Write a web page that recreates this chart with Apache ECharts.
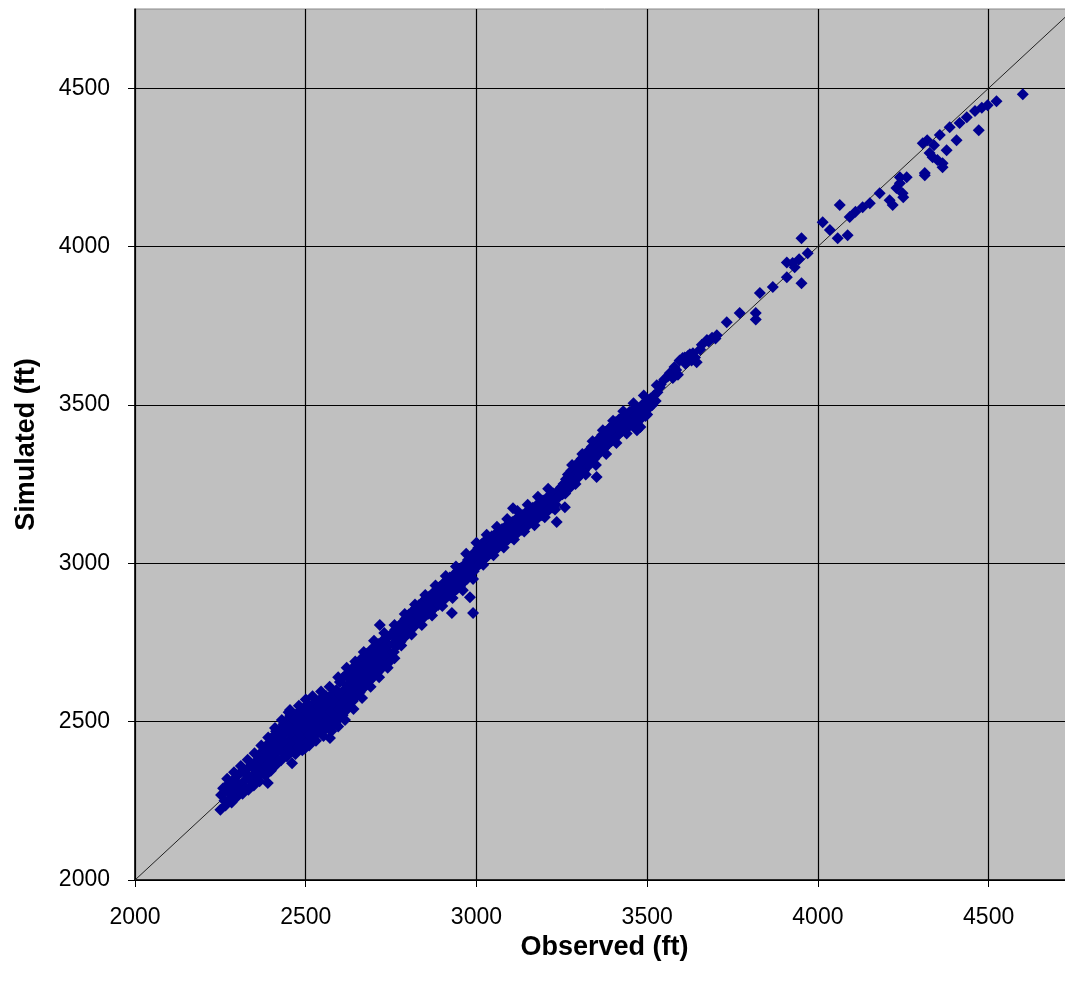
<!DOCTYPE html>
<html>
<head>
<meta charset="utf-8">
<style>
html,body{margin:0;padding:0;background:#fff;overflow:hidden;}
#chart{width:1090px;height:981px;}
</style>
<script src="https://cdn.jsdelivr.net/npm/echarts@6/dist/echarts.min.js"></script>
</head>
<body>
<div id="chart"></div>
<script>
// Observed vs simulated water levels (ft)
const bandLow = [
[2250,2222],[2252,2268],[2258,2290],[2262,2250],[2270,2282],[2275,2305],[2280,2260],[2285,2296],[2290,2318],[2295,2275],
[2300,2330],[2305,2300],[2310,2285],[2312,2342],[2318,2310],[2322,2290],[2325,2335],[2330,2352],[2335,2318],[2338,2296],
[2342,2360],[2345,2330],[2350,2310],[2352,2372],[2356,2345],[2360,2325],[2362,2390],[2366,2360],[2370,2338],[2372,2405],
[2375,2378],[2378,2350],[2380,2415],[2383,2390],[2386,2360],[2389,2306],[2390,2430],[2392,2400],[2395,2372],[2398,2445],
[2400,2415],[2403,2385],[2406,2455],[2408,2430],[2410,2398],[2413,2470],[2415,2440],[2418,2410],[2420,2380],[2422,2458],
[2425,2428],[2428,2478],[2430,2445],[2432,2405],[2435,2492],[2437,2460],[2440,2425],[2442,2395],[2445,2505],[2447,2475],
[2450,2440],[2452,2415],[2454,2537],[2455,2520],[2457,2490],[2460,2460],[2460,2369],[2462,2430],[2465,2405],[2468,2505],
[2470,2475],[2472,2445],[2475,2420],[2478,2530],[2480,2495],[2482,2465],[2485,2435],[2488,2512],[2490,2480],[2492,2450],
[2495,2540],[2497,2415],[2500,2500],[2502,2470],[2505,2440],[2505,2555],[2508,2520],[2510,2488],[2512,2458],[2515,2537],
[2518,2505],[2520,2475],[2522,2445],[2525,2560],[2528,2525],[2530,2492],[2532,2462],[2535,2548],[2538,2515],[2540,2482],
[2542,2570],[2545,2535],[2548,2500],[2550,2470],[2552,2555],[2555,2522],[2558,2490],[2560,2580],[2562,2545],[2565,2510],
[2568,2478],[2571,2448],[2572,2565],[2575,2532],[2578,2500],[2580,2590],[2582,2555],[2585,2520],[2588,2492],[2590,2600],
[2592,2570],[2595,2540],[2598,2510],
[2265,2235],[2283,2245],[2298,2262],[2315,2272],[2332,2285],[2348,2298],[2365,2312],[2382,2330],[2398,2345],[2412,2362],
[2428,2378],[2445,2390],[2470,2398],[2490,2410],[2510,2425],[2530,2440],[2552,2455],[2575,2470],[2595,2485],
[2270,2320],[2290,2340],[2310,2360],[2330,2380],[2350,2400],[2370,2425],[2390,2450],[2410,2480],[2430,2505],[2450,2530],
[2480,2550],[2500,2570],[2520,2580],[2545,2595],[2570,2610],[2595,2640]
];
const bandMid = [
[2600,2625],[2602,2585],[2605,2555],[2608,2520],[2610,2640],[2612,2600],[2615,2570],[2618,2535],[2620,2650],[2622,2615],
[2625,2585],[2628,2550],[2630,2660],[2632,2628],[2635,2598],[2638,2565],[2640,2672],[2642,2640],[2645,2610],[2648,2580],
[2650,2685],[2652,2652],[2655,2622],[2658,2592],[2660,2695],[2662,2665],[2665,2635],[2668,2605],[2670,2705],[2672,2678],
[2675,2648],[2678,2618],[2680,2715],[2682,2690],[2685,2660],[2688,2630],[2690,2725],[2692,2700],[2695,2672],[2698,2642],
[2700,2735],[2703,2710],[2706,2685],[2710,2655],[2712,2745],[2715,2720],[2717,2805],[2718,2695],[2722,2668],[2725,2755],
[2728,2732],[2732,2705],[2735,2680],[2738,2765],[2742,2742],[2745,2718],[2748,2692],[2750,2775],[2755,2745],[2758,2720],
[2762,2790],[2765,2765],[2768,2740],[2772,2800],[2775,2778],[2778,2752],[2782,2812],[2785,2788],[2788,2765],[2792,2825],
[2795,2800],[2798,2778],[2802,2838],[2805,2812],[2808,2790],[2812,2848],[2815,2825],[2818,2800],[2822,2858],[2825,2835],
[2828,2812],[2832,2868],[2835,2845],[2838,2822],[2842,2878],[2845,2855],[2848,2832],[2852,2888],[2855,2865],[2858,2840],
[2862,2895],[2865,2872],[2868,2850],[2872,2905],[2875,2882],[2878,2860],[2882,2915],[2885,2892],[2888,2868],[2892,2925],
[2895,2900],[2898,2878],[2902,2935],[2905,2910],[2908,2888],[2912,2945],[2915,2920],[2918,2898],[2922,2955],[2925,2930],
[2928,2843],[2930,2908],[2935,2965],[2938,2940],[2942,2918],[2945,2975],[2948,2950],[2952,2928],[2955,2985],[2958,2960],
[2962,2940],[2965,2995],[2968,2970],[2972,2950],[2975,3010],[2978,2985],[2981,2893],[2982,2962],[2985,3022],[2988,2998],
[2990,2843],[2992,2975],[2995,3035],[2998,3010],[3002,2990],[3005,3048],[3008,3022],[3012,3000],
[2615,2505],[2640,2540],[2665,2575],[2690,2610],[2715,2640],[2740,2670],[2760,2700],
[2620,2670],[2645,2690],[2670,2720],[2700,2755],[2730,2780],[2760,2805],[2790,2840],[2820,2870],[2850,2900],[2880,2930],
[2910,2960],[2940,2990],[2970,3030],[3000,3065],
[2780,2740],[2810,2775],[2840,2805],[2870,2835],[2900,2865],[2930,2890],[2960,2915],[2990,2950]
];
const bandHigh = [
[3015,3060],[3018,3035],[3022,3012],[3025,3070],[3028,3045],[3032,3022],[3035,3078],[3038,3055],[3042,3032],[3045,3085],
[3048,3062],[3052,3040],[3055,3092],[3058,3070],[3062,3048],[3065,3100],[3068,3078],[3072,3058],[3075,3108],[3078,3086],
[3082,3066],[3085,3115],[3088,3094],[3092,3074],[3095,3122],[3098,3102],[3102,3082],[3105,3130],[3107,3174],[3108,3110],
[3112,3090],[3115,3138],[3118,3118],[3122,3098],[3125,3145],[3128,3125],[3132,3106],[3135,3152],[3138,3132],[3142,3114],
[3145,3160],[3148,3140],[3152,3122],[3155,3168],[3158,3148],[3162,3130],[3165,3175],[3168,3155],[3172,3138],[3175,3182],
[3178,3162],[3182,3145],[3185,3190],[3188,3170],[3192,3152],[3195,3198],[3198,3178],[3202,3160],[3205,3205],[3208,3186],
[3212,3168],[3215,3212],[3218,3194],[3222,3176],[3225,3220],[3228,3202],[3232,3185],[3235,3130],[3238,3228],[3242,3210],
[3248,3240],[3252,3218],[3259,3177],[3255,3250],[3258,3232],[3262,3265],[3265,3245],[3268,3280],[3272,3258],[3275,3240],
[3278,3292],[3282,3272],[3285,3255],[3288,3305],[3292,3285],[3295,3268],[3298,3318],[3302,3298],[3305,3280],[3308,3330],
[3312,3310],[3315,3292],[3318,3342],[3322,3322],[3325,3305],[3328,3355],[3332,3335],[3335,3318],[3338,3368],[3342,3348],
[3345,3330],[3348,3380],[3352,3272],[3352,3360],[3355,3342],[3358,3392],[3362,3372],[3365,3355],[3368,3405],[3372,3385],
[3375,3365],[3378,3415],[3382,3395],[3385,3375],[3388,3425],[3392,3405],[3395,3385],[3398,3435],[3402,3415],[3405,3395],
[3408,3445],[3412,3425],[3415,3405],[3418,3455],[3422,3435],[3425,3415],[3428,3462],[3432,3442],[3435,3422],[3438,3470],
[3442,3450],[3445,3430],[3448,3478],[3452,3458],[3455,3438],[3458,3485],[3462,3465],[3465,3448],[3470,3440],[3470,3492],
[3475,3472],[3480,3455],[3480,3430],[3485,3500],[3490,3480],[3495,3465],[3500,3510],[3505,3490],[3510,3520],[3515,3500],
[3520,3530],[3525,3512],[3530,3540],[3537,3556],[3528,3562],[3540,3565],[3550,3580],
[3030,3090],[3060,3115],[3090,3140],[3120,3165],[3150,3185],[3180,3210],[3210,3235],
[3020,2995],[3050,3025],[3080,3050],[3110,3075],[3140,3100],[3170,3120],[3200,3145],[3230,3170],
[3260,3220],[3290,3250],[3320,3280],[3350,3310],[3380,3345],[3410,3380],[3440,3410],[3470,3420],[3500,3470],
[3280,3310],[3310,3345],[3340,3385],[3370,3420],[3400,3450],[3430,3480],[3460,3505],[3490,3530]
];
const upperPoints = [
[3560,3590],[3566,3600],[3575,3585],[3580,3620],[3585,3610],[3590,3595],[3595,3640],[3604,3648],[3610,3650],[3612,3630],
[3620,3655],[3625,3660],[3630,3640],[3634,3663],[3640,3650],[3645,3635],[3655,3675],[3660,3690],[3675,3705],[3680,3700],
[3690,3712],[3700,3710],[3704,3720],[3733,3761],[3771,3790],[3818,3790],[3818,3770],[3830,3853],[3868,3872],[3909,3903],
[3909,3950],[3926,3948],[3952,3884],[3952,4026],[3970,3979],[3932,3935],[3945,3960],
[4014,4077],[4035,4052],[4058,4026],[4087,4036],[4064,4131],[4093,4093],[4131,4124],[4152,4137],[4110,4110],
[4181,4168],[4210,4146],[4240,4200],[4248,4168],[4219,4131],[4230,4185],[4260,4219],[4250,4156],[4240,4219],
[4307,4326],[4320,4336],[4340,4320],[4357,4352],[4377,4304],[4386,4377],[4406,4336],[4415,4390],[4436,4408],[4460,4428],
[4480,4438],[4497,4446],[4336,4282],[4350,4273],[4365,4263],[4365,4250],[4313,4232],[4313,4225],[4327,4295],
[4471,4367],[4523,4459],[4600,4481]
];
const tickValues = [2000, 2500, 3000, 3500, 4000, 4500];
const oneToOne = [[2000, 2000], [4750, 4750]];
const allPoints = bandLow.concat(bandMid, bandHigh, upperPoints);

const chart = echarts.init(document.getElementById('chart'), null, {renderer: 'canvas'});
const labelFmt = v => tickValues.indexOf(v) >= 0 ? String(v) : '';
const font = 'Liberation Sans, Arial, sans-serif';
const axisCommon = {
  type: 'value', min: 2000, max: 4750, interval: 500,
  axisLine: {show: true, lineStyle: {color: '#000', width: 1.5}},
  axisTick: {show: true, inside: false, length: 7, customValues: tickValues, lineStyle: {color: '#000', width: 1}},
  splitLine: {show: true, lineStyle: {color: '#000', width: 1.2}},
  axisLabel: {formatter: labelFmt, customValues: tickValues, color: '#000', fontSize: 23, fontFamily: font},
  nameLocation: 'middle',
  nameTextStyle: {color: '#000', fontSize: 27, fontWeight: 'bold', fontFamily: font}
};
chart.setOption({
  animation: false,
  backgroundColor: '#ffffff',
  grid: {left: 135, top: 9, width: 939, height: 871, show: true, backgroundColor: '#c0c0c0', borderColor: '#8a8a8a', borderWidth: 1},
  xAxis: Object.assign({}, axisCommon, {name: 'Observed (ft)', nameGap: 54,
    axisLabel: Object.assign({}, axisCommon.axisLabel, {margin: 26})}),
  yAxis: Object.assign({}, axisCommon, {name: 'Simulated (ft)', nameGap: 95, nameRotate: 90,
    axisLabel: Object.assign({}, axisCommon.axisLabel, {margin: 25})}),
  series: [
    {type: 'line', data: oneToOne, symbol: 'none', lineStyle: {color: '#222', width: 1}, z: 1, silent: true},
    {type: 'scatter', data: allPoints, symbol: 'diamond', symbolSize: 12, itemStyle: {color: '#000090', opacity: 1}, z: 2}
  ]
});
</script>
</body>
</html>
